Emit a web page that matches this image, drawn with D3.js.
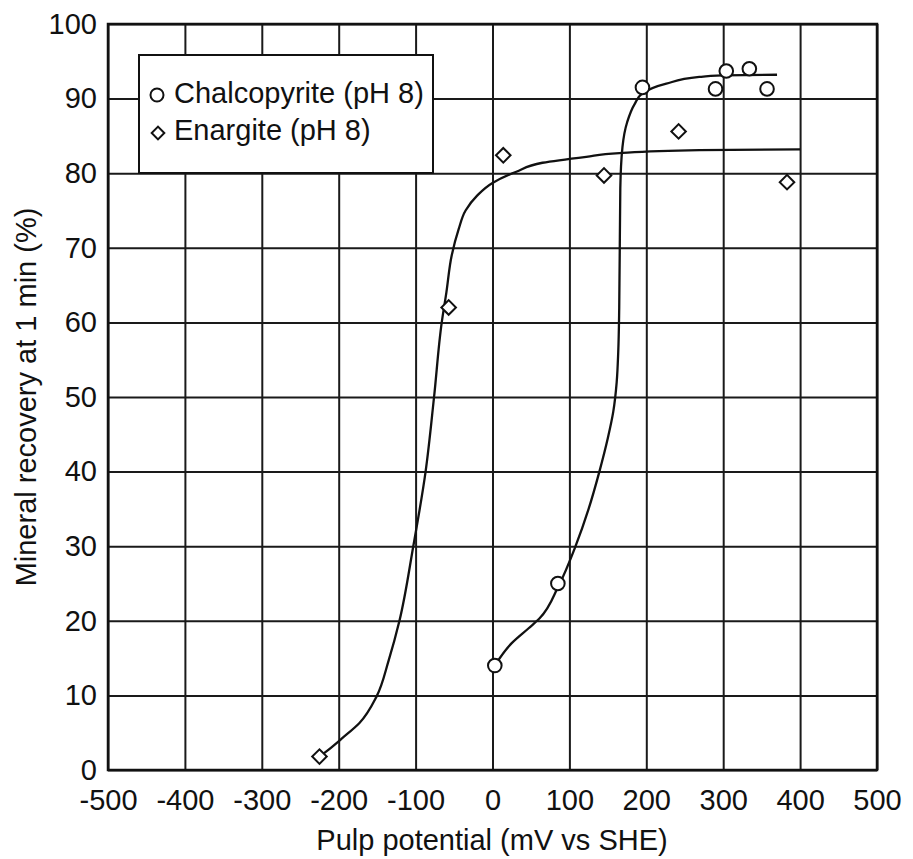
<!DOCTYPE html>
<html>
<head>
<meta charset="utf-8">
<script src="https://cdn.jsdelivr.net/npm/d3@7"></script>
<style>
  body { margin: 0; background: #fff; }
  svg text { font-family: "Liberation Sans", Arial, Helvetica, sans-serif; fill: #111; }
</style>
</head>
<body>
<div id="chart"></div>
<script>
// measured points
const chalcoX = [3, 85, 195, 290, 304, 334, 357];
const chalcoY = [14, 25, 91.5, 91.3, 93.7, 94.0, 91.3];
const enargX = [-225, -57, 14, 145, 242, 383];
const enargY = [1.8, 62.0, 82.4, 79.7, 85.6, 78.8];

// hand-drawn fit curves
const chalcoFitX = [3, 25, 47, 61, 86, 108, 125, 139, 150, 157, 161.5, 163.5, 164.8, 165.5, 166.2, 169, 175, 185, 195, 226, 269, 300, 370];
const chalcoFitY = [14, 17, 19, 20.3, 24.7, 30, 35, 40, 44.5, 48, 52, 56, 62, 70, 78, 83.5, 86.8, 89.3, 90.7, 92, 92.9, 93.1, 93.2];
const enargFitX = [-225, -216, -195, -173, -151, -135, -121, -103, -87, -76, -66, -60, -53, -44, -35, -20, 0, 31, 65, 122, 165, 269, 400];
const enargFitY = [1.8, 2.5, 4.3, 6.3, 9.8, 14.7, 20, 30, 40, 50, 60, 64, 69, 72.5, 75, 77, 78.7, 80.2, 81.4, 82.2, 82.7, 83.1, 83.2];

const xTicks = [-500, -400, -300, -200, -100, 0, 100, 200, 300, 400, 500];
const yTicks = [0, 10, 20, 30, 40, 50, 60, 70, 80, 90, 100];
const legendLabels = ["Chalcopyrite (pH 8)", "Enargite (pH 8)"];

const margin = { top: 24, right: 36, bottom: 89, left: 108 },
    width = 913 - margin.left - margin.right,
    height = 859 - margin.top - margin.bottom;

const svg = d3.select("#chart").append("svg")
    .attr("width", 913)
    .attr("height", 859)
  .append("g")
    .attr("transform", `translate(${margin.left}, ${margin.top})`);

const x = d3.scaleLinear().domain([-500, 500]).range([0, width]);
const y = d3.scaleLinear().domain([0, 100]).range([height, 0]);

// grid + labels (plain hyphen for negatives, like the original)
const gx = svg.append("g")
    .attr("transform", `translate(0, ${height})`)
    .call(d3.axisBottom(x).tickValues(xTicks).tickSize(-height).tickPadding(19).tickFormat(d => String(d)));
const gy = svg.append("g")
    .call(d3.axisLeft(y).tickValues(yTicks).tickSize(-width).tickPadding(11));

[gx, gy].forEach(g => {
    g.select(".domain").remove();
    g.selectAll(".tick line").attr("stroke", "#1a1a1a").attr("stroke-width", 2);
    g.selectAll(".tick text").attr("font-size", 29).attr("fill", "#111");
});

// frame
svg.append("rect")
    .attr("width", width)
    .attr("height", height)
    .attr("fill", "none")
    .attr("stroke", "#111")
    .attr("stroke-width", 2.5);

// axis titles
svg.append("text")
    .attr("x", width / 2 - 0.5)
    .attr("y", height + 80)
    .attr("text-anchor", "middle")
    .attr("font-size", 29)
    .text("Pulp potential (mV vs SHE)");
svg.append("text")
    .attr("transform", `translate(${-72}, ${height / 2}) rotate(-90)`)
    .attr("text-anchor", "middle")
    .attr("font-size", 29)
    .text("Mineral recovery at 1 min (%)");

// fit lines
const line = d3.line()
    .x(d => x(d[0]))
    .y(d => y(d[1]))
    .curve(d3.curveMonotoneY);

svg.append("path")
    .datum(d3.zip(enargFitX, enargFitY))
    .attr("fill", "none")
    .attr("stroke", "#111")
    .attr("stroke-width", 2.3)
    .attr("d", line);
svg.append("path")
    .datum(d3.zip(chalcoFitX, chalcoFitY))
    .attr("fill", "none")
    .attr("stroke", "#111")
    .attr("stroke-width", 2.3)
    .attr("d", line);

// markers
const diamond = d3.symbol().type(d3.symbolSquare).size(106);

svg.append("g").selectAll("circle")
    .data(d3.zip(chalcoX, chalcoY))
    .join("circle")
    .attr("cx", d => x(d[0]))
    .attr("cy", d => y(d[1]))
    .attr("r", 6.8)
    .attr("fill", "#fff")
    .attr("stroke", "#111")
    .attr("stroke-width", 2);

svg.append("g").selectAll("path")
    .data(d3.zip(enargX, enargY))
    .join("path")
    .attr("d", diamond)
    .attr("transform", d => `translate(${x(d[0])}, ${y(d[1])}) rotate(45)`)
    .attr("fill", "#fff")
    .attr("stroke", "#111")
    .attr("stroke-width", 2);

// legend
const legend = svg.append("g").attr("transform", "translate(31, 31)");
legend.append("rect")
    .attr("width", 294)
    .attr("height", 118)
    .attr("fill", "#fff")
    .attr("stroke", "#111")
    .attr("stroke-width", 2);
legend.append("circle")
    .attr("cx", 18).attr("cy", 40).attr("r", 6.5)
    .attr("fill", "#fff").attr("stroke", "#111").attr("stroke-width", 2);
legend.append("path")
    .attr("d", d3.symbol().type(d3.symbolSquare).size(80))
    .attr("transform", "translate(19, 78) rotate(45)")
    .attr("fill", "#fff").attr("stroke", "#111").attr("stroke-width", 2);
legend.selectAll("text.lab")
    .data(legendLabels)
    .join("text")
    .attr("class", "lab")
    .attr("x", 35)
    .attr("y", (d, i) => 48 + i * 37)
    .attr("font-size", 29)
    .text(d => d);
</script>
</body>
</html>
